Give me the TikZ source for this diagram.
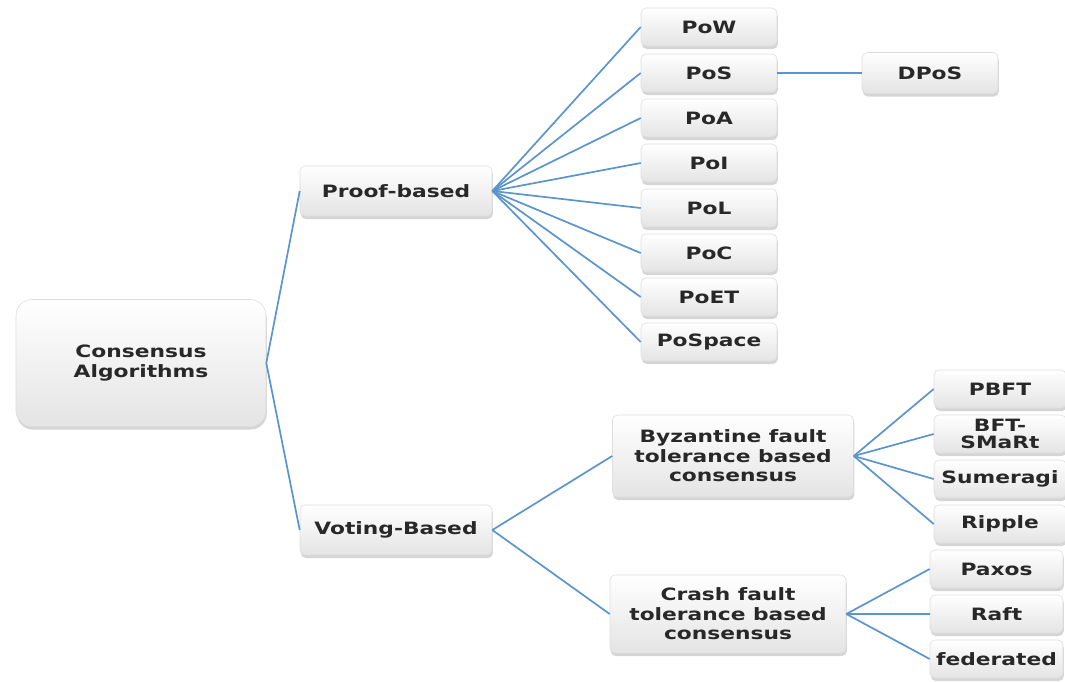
\documentclass[tikz,border=0pt]{standalone}
\usepackage{fontspec}
\setmainfont{DejaVu Sans}[FakeStretch=1.28]
\usetikzlibrary{shadows}
\definecolor{linkblue}{RGB}{92,148,204}
\definecolor{boxedge}{RGB}{222,222,222}
\definecolor{boxbottom}{RGB}{228,228,228}
\definecolor{txt}{RGB}{40,40,40}
\begin{document}
\begin{tikzpicture}[x=1pt,y=-1pt,
  box/.style={rectangle, rounded corners=5pt, draw=boxedge, line width=0.6pt,
    top color=white, bottom color=boxbottom, inner sep=0pt,
    font=\fontsize{17}{19.5}\selectfont\bfseries, text=txt, align=center,
    drop shadow={shadow xshift=0.8pt, shadow yshift=-3pt, opacity=0.3, fill=black!55}},
  leaf/.style={box, minimum width=136pt, minimum height=38pt},
  link/.style={draw=linkblue, line width=1.7pt}]
\useasboundingbox (0,0) rectangle (1065,681);

% root and first level
\node[box, rounded corners=16pt, minimum width=250pt, minimum height=127pt] (root) at (141,363) {Consensus\\Algorithms};
\node[box, minimum width=192pt, minimum height=50pt] (proof) at (396,191) {Proof-based};
\node[box, minimum width=192pt, minimum height=50pt] (voting) at (396,530) {Voting-Based};

% proof-based family
\node[leaf] (pow) at (709,27) {PoW};
\node[leaf] (pos) at (709,73) {PoS};
\node[leaf] (poa) at (709,118) {PoA};
\node[leaf] (poi) at (709,163) {PoI};
\node[leaf] (pol) at (709,208) {PoL};
\node[leaf] (poc) at (709,253) {PoC};
\node[leaf] (poet) at (709,297) {PoET};
\node[leaf] (pospace) at (709,342) {PoSpace};
\node[leaf, minimum height=41pt] (dpos) at (930,73) {DPoS};

% voting-based family
\node[box, minimum width=241pt, minimum height=82pt] (bft) at (733,456) {Byzantine fault\\tolerance based\\consensus};
\node[box, minimum width=236pt, minimum height=78pt] (cft) at (728,614) {Crash fault\\tolerance based\\consensus};

\node[leaf, minimum width=132pt] (pbft) at (1000,389) {PBFT};
\node[leaf, minimum width=132pt, font=\fontsize{17}{17}\selectfont\bfseries] (smart) at (1000,434) {BFT-\\SMaRt};
\node[leaf, minimum width=132pt] (sumeragi) at (1000,479) {Sumeragi};
\node[leaf, minimum width=132pt] (ripple) at (1000,524) {Ripple};

\node[leaf, minimum width=133pt] (paxos) at (996.5,569) {Paxos};
\node[leaf, minimum width=133pt] (raft) at (996.5,614) {Raft};
\node[leaf, minimum width=133pt] (fed) at (996.5,659) {federated};

% connectors
\draw[link] (root.east) -- (proof.west);
\draw[link] (root.east) -- (voting.west);
\foreach \n in {pow,pos,poa,poi,pol,poc,poet,pospace}
  \draw[link] (proof.east) -- (\n.west);
\draw[link] (pos.east) -- (dpos.west);
\draw[link] (voting.east) -- (bft.west);
\draw[link] (voting.east) -- (cft.west);
\foreach \n in {pbft,smart,sumeragi,ripple}
  \draw[link] (bft.east) -- (\n.west);
\foreach \n in {paxos,raft,fed}
  \draw[link] (cft.east) -- (\n.west);
\end{tikzpicture}
\end{document}
